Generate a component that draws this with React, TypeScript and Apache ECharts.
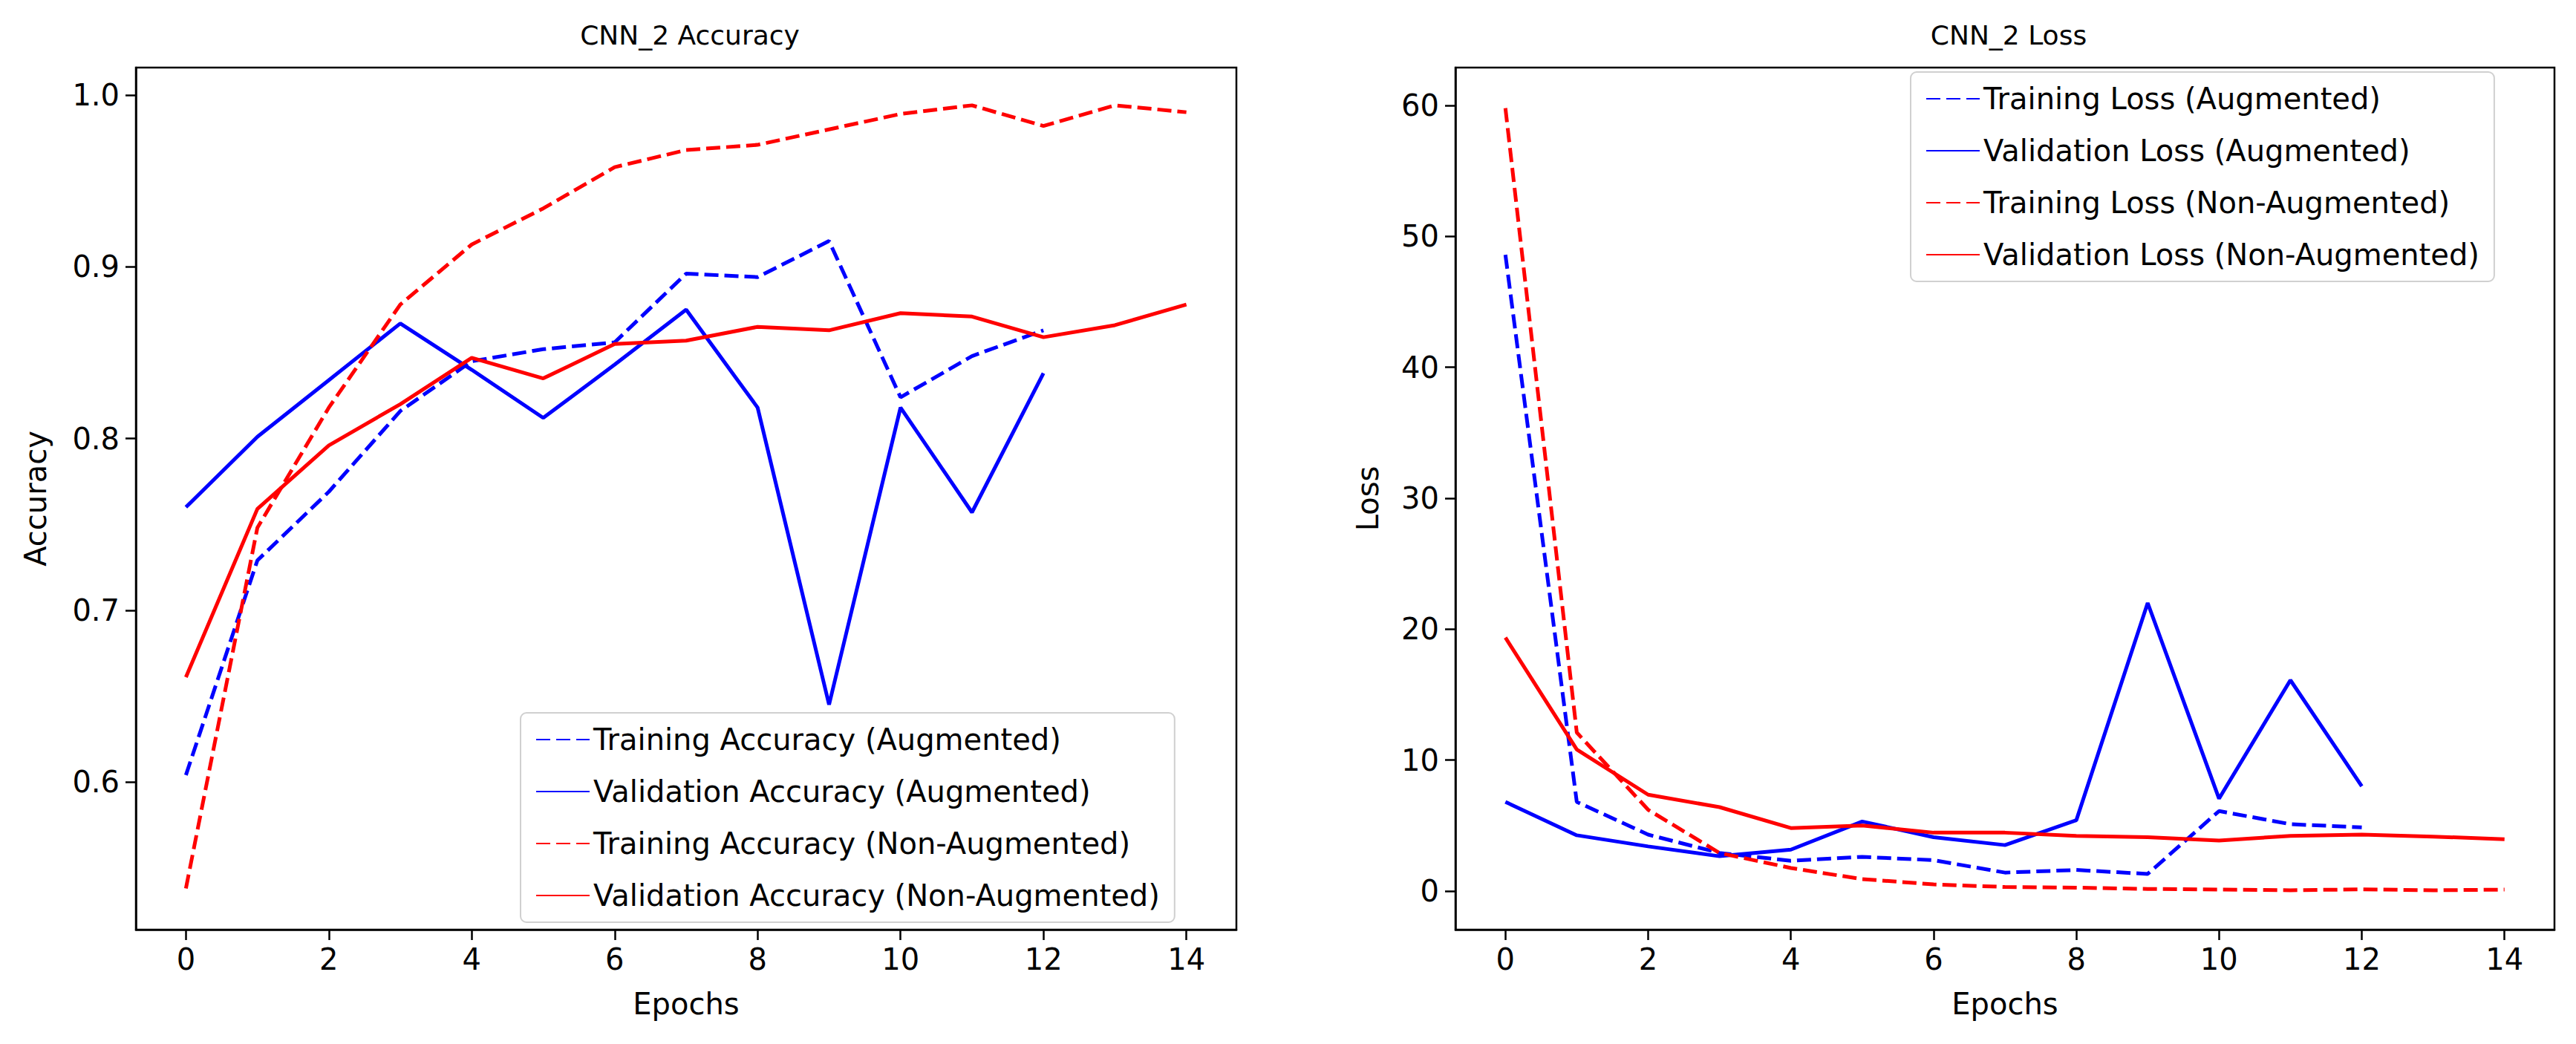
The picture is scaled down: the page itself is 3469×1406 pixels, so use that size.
import React, { useEffect, useRef } from 'react';
import * as echarts from 'echarts';

const epochs = Array.from({ length: 15 }, (_, i) => i);

const trainAccAug = [0.604, 0.729, 0.769, 0.816, 0.845, 0.852, 0.856, 0.896, 0.894, 0.915, 0.824, 0.848, 0.863];
const valAccAug = [0.760, 0.801, 0.834, 0.867, 0.840, 0.812, 0.843, 0.875, 0.818, 0.645, 0.818, 0.757, 0.838];
const trainAccNon = [0.538, 0.748, 0.818, 0.878, 0.913, 0.934, 0.958, 0.968, 0.971, 0.980, 0.989, 0.994, 0.982, 0.994, 0.990];
const valAccNon = [0.661, 0.759, 0.796, 0.820, 0.847, 0.835, 0.855, 0.857, 0.865, 0.863, 0.873, 0.871, 0.859, 0.866, 0.878];

const trainLossAug = [48.6, 6.8, 4.3, 2.9, 2.3, 2.6, 2.35, 1.4, 1.6, 1.3, 6.1, 5.1, 4.85];
const valLossAug = [6.8, 4.25, 3.4, 2.65, 3.15, 5.3, 4.1, 3.5, 5.4, 22.0, 7.05, 16.1, 8.0];
const trainLossNon = [59.8, 12.1, 6.2, 2.9, 1.75, 0.9, 0.5, 0.3, 0.25, 0.15, 0.1, 0.05, 0.12, 0.05, 0.1];
const valLossNon = [19.35, 10.8, 7.35, 6.4, 4.8, 5.0, 4.45, 4.45, 4.2, 4.1, 3.85, 4.2, 4.3, 4.15, 3.95];

const xTicks = [0, 2, 4, 6, 8, 10, 12, 14];
const accTicks = [0.6, 0.7, 0.8, 0.9, 1.0];
const lossTicks = [0, 10, 20, 30, 40, 50, 60];

const FONT = 'DejaVu Sans';
const FS = 40;
const pts = (ys: number[]) => ys.map((y, i) => [epochs[i], y]);

export default function App() {
    const chartRef = useRef<HTMLDivElement>(null);

    useEffect(() => {
        if (!chartRef.current) return;
        const chart = echarts.init(chartRef.current, null, { renderer: 'svg' });

        const xAxis = (gridIndex: number) => ({
            type: 'value', gridIndex, min: -0.7, max: 14.7,
            name: 'Epochs', nameLocation: 'middle', nameGap: 80,
            nameTextStyle: { fontFamily: FONT, fontSize: FS, color: '#000' },
            axisLine: { onZero: false, lineStyle: { color: '#000', width: 2.5 } },
            axisTick: { show: true, length: 14, lineStyle: { width: 2.5, color: '#000' }, customValues: xTicks },
            axisLabel: { fontFamily: FONT, fontSize: FS, color: '#000', margin: 20, customValues: xTicks },
            splitLine: { show: false },
        });
        const yAxis = (gridIndex: number, name: string, min: number, max: number, ticks: number[], gap: number, fmt: (v: number) => string) => ({
            type: 'value', gridIndex, min, max,
            name, nameLocation: 'middle', nameGap: gap,
            nameTextStyle: { fontFamily: FONT, fontSize: FS, color: '#000' },
            axisLine: { show: true, onZero: false, lineStyle: { color: '#000', width: 2.5 } },
            axisTick: { show: true, length: 14, lineStyle: { width: 2.5, color: '#000' }, customValues: ticks },
            axisLabel: { fontFamily: FONT, fontSize: FS, color: '#000', margin: 22, customValues: ticks, formatter: fmt },
            splitLine: { show: false },
        });
        const line = (name: string, data: number[], color: string, dashed: boolean, idx: number) => ({
            type: 'line', name, data: pts(data), xAxisIndex: idx, yAxisIndex: idx,
            symbol: 'none', lineStyle: { color, width: 5, type: dashed ? [19, 8] : 'solid' },
            itemStyle: { color },
        });
        const legendBase = {
            orient: 'vertical', itemWidth: 72, itemHeight: 38, itemGap: 30,
            padding: [16, 20], borderColor: '#d0d0d0', borderWidth: 2, borderRadius: 8,
            backgroundColor: 'rgba(255,255,255,0.8)',
            itemStyle: { opacity: 0 },
            textStyle: { fontFamily: FONT, fontSize: FS, color: '#000' },
        };

        chart.setOption({
            animation: false,
            textStyle: { fontFamily: FONT },
            title: [
                { text: 'CNN_2 Accuracy', left: 924, top: 24, textAlign: 'center', textStyle: { fontFamily: FONT, fontSize: 36, fontWeight: 'normal', color: '#000' } },
                { text: 'CNN_2 Loss', left: 2700, top: 24, textAlign: 'center', textStyle: { fontFamily: FONT, fontSize: 36, fontWeight: 'normal', color: '#000' } },
            ],
            grid: [
                { left: 183, top: 91, width: 1482, height: 1161, show: true, borderColor: '#000', borderWidth: 2.5 },
                { left: 1960, top: 91, width: 1480, height: 1161, show: true, borderColor: '#000', borderWidth: 2.5 },
            ],
            legend: [
                { ...legendBase, left: 701, top: 960, data: ['Training Accuracy (Augmented)', 'Validation Accuracy (Augmented)', 'Training Accuracy (Non-Augmented)', 'Validation Accuracy (Non-Augmented)'] },
                { ...legendBase, left: 2573, top: 97, data: ['Training Loss (Augmented)', 'Validation Loss (Augmented)', 'Training Loss (Non-Augmented)', 'Validation Loss (Non-Augmented)'] },
            ],
            xAxis: [xAxis(0), xAxis(1)],
            yAxis: [
                yAxis(0, 'Accuracy', 0.514, 1.016, accTicks, 115, (v) => v.toFixed(1)),
                yAxis(1, 'Loss', -2.96, 62.9, lossTicks, 98, (v) => String(v)),
            ],
            series: [
                line('Training Accuracy (Augmented)', trainAccAug, '#0000ff', true, 0),
                line('Validation Accuracy (Augmented)', valAccAug, '#0000ff', false, 0),
                line('Training Accuracy (Non-Augmented)', trainAccNon, '#ff0000', true, 0),
                line('Validation Accuracy (Non-Augmented)', valAccNon, '#ff0000', false, 0),
                line('Training Loss (Augmented)', trainLossAug, '#0000ff', true, 1),
                line('Validation Loss (Augmented)', valLossAug, '#0000ff', false, 1),
                line('Training Loss (Non-Augmented)', trainLossNon, '#ff0000', true, 1),
                line('Validation Loss (Non-Augmented)', valLossNon, '#ff0000', false, 1),
            ],
        });

        return () => chart.dispose();
    }, []);

    return <div ref={chartRef} style={{ position: 'absolute', left: 0, top: 0, width: '3469px', height: '1406px', background: '#fff' }}></div>;
}
